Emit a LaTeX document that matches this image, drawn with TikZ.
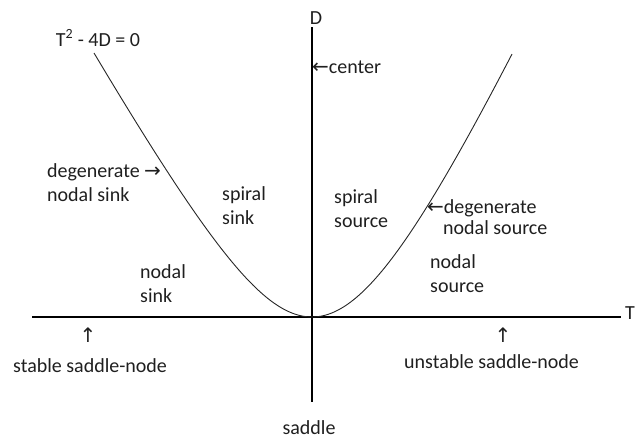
\documentclass[tikz,border=0pt]{standalone}
\usepackage{fontspec}
\setmainfont{Carlito}
\newfontfamily\arrfont{DejaVu Sans}
\begin{document}
\begin{tikzpicture}[x=1pt,y=-1pt,
  lbl/.style={inner sep=0pt, font=\fontsize{20}{24}\selectfont, text=black!88, align=left},
  axis/.style={line width=1.3pt, black},
  curve/.style={line width=0.9pt, black!85}]
\useasboundingbox (0,0) rectangle (635,439);
% axes
\coordinate (xl) at (32,317);
\coordinate (xr) at (621,317);
\coordinate (yt) at (312,27);
\coordinate (yb) at (312,402);
\draw[axis] (xl) -- (xr);
\draw[axis] (yt) -- (yb);
\node[lbl, anchor=west] (Tlab) at (625,313) {T};
\node[lbl, anchor=south] (Dlab) at (316,25) {D};
% curve
\draw[curve] plot[domain=-21.8:0, samples=90, smooth] ({312+10*\x},{317-1.81*(10*sqrt(\x*\x+81)-90)})
  -- plot[domain=0:20, samples=90, smooth] ({312+10*\x},{317-2.175*(10*sqrt(\x*\x+110.25)-105)});
% labels
\node[lbl, anchor=center] (eq) at (98,38) {T\textsuperscript{2} - 4D = 0};
\node[lbl, anchor=west] (center) at (312,67) {{\arrfont ←}center};
\node[lbl, anchor=west] (degsink) at (47,183) {degenerate {\arrfont →}\\nodal sink};
\node[lbl, anchor=west] (spsink) at (222,206) {spiral\\sink};
\node[lbl, anchor=west] (ndsink) at (140,283.5) {nodal\\sink};
\node[lbl, anchor=west] (spsrc) at (334,209) {spiral\\source};
\node[lbl, anchor=west] (degsrc1) at (427,208) {{\arrfont ←}degenerate};
\node[lbl, anchor=west] (degsrc2) at (443,228) {nodal source};
\node[lbl, anchor=west] (ndsrc) at (430,273.5) {nodal\\source};
\node[lbl, anchor=center] (up1) at (88,335) {\arrfont ↑};
\node[lbl, anchor=west] (ssn) at (13,366) {stable saddle-node};
\node[lbl, anchor=center] (up2) at (503,335) {\arrfont ↑};
\node[lbl, anchor=west] (usn) at (404,362) {unstable saddle-node};
\node[lbl, anchor=center] (saddle) at (309,428) {saddle};
\end{tikzpicture}
\end{document}
